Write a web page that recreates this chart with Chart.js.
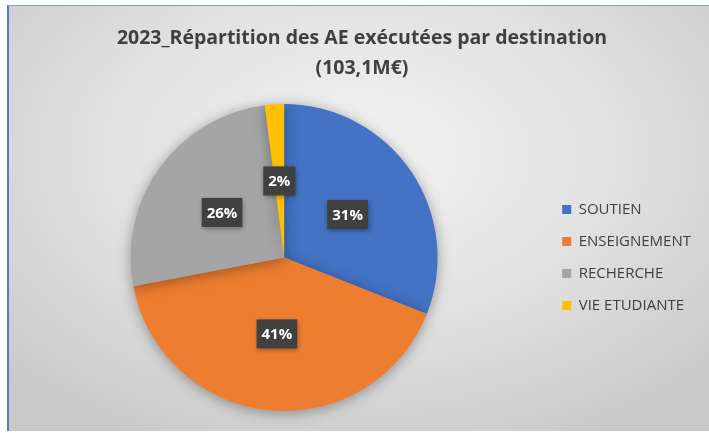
<!DOCTYPE html>
<html>
<head>
<meta charset="utf-8">
<script src="https://cdn.jsdelivr.net/npm/chart.js@4/dist/chart.umd.min.js"></script>
<style>
  body { margin: 0; background: #fff; }
  #box {
    position: absolute; left: 7px; top: 5px; width: 700px; height: 425px;
    border-left: 2px solid #4f7bd0; border-top: 1px solid #7f9fdc;
    background: radial-gradient(ellipse 70% 75% at 50% 35%, #f3f3f3 0%, #e2e2e2 50%, #c9c9c9 100%);
  }
  canvas { display: block; }
</style>
</head>
<body>
<div id="box"><canvas id="pie" width="700" height="425"></canvas></div>
<script>
// data
var destinations = ["SOUTIEN", "ENSEIGNEMENT", "RECHERCHE", "VIE ETUDIANTE"];
var shares = [31, 41, 26, 2]; // % of 103,1 M€
var sliceColors = ["#4472C4", "#ED7D31", "#A5A5A5", "#FFC000"];

var fontName = "'Open Sans', sans-serif";

// soft shadow under the pie
var shadowPlugin = {
    id: "pieShadow",
    beforeDatasetsDraw: function (chart) {
        var ctx = chart.ctx;
        ctx.save();
        ctx.shadowColor = "rgba(0,0,0,0.35)";
        ctx.shadowBlur = 14;
        ctx.shadowOffsetY = 2;
    },
    afterDatasetsDraw: function (chart) {
        chart.ctx.restore();
    }
};

// dark boxes with the percentages
var boxLabels = {
    id: "boxLabels",
    afterDatasetsDraw: function (chart) {
        var ctx = chart.ctx;
        var meta = chart.getDatasetMeta(0);
        ctx.save();
        ctx.font = "bold 15px " + fontName;
        ctx.textAlign = "center";
        ctx.textBaseline = "middle";
        meta.data.forEach(function (arc, i) {
            var p = arc.getCenterPoint();
            var txt = shares[i] + "%";
            var w = ctx.measureText(txt).width + 10;
            var h = 29;
            ctx.save();
            ctx.shadowColor = "rgba(0,0,0,0.4)";
            ctx.shadowBlur = 5;
            ctx.shadowOffsetX = 1;
            ctx.shadowOffsetY = 2;
            ctx.fillStyle = "#404040";
            ctx.fillRect(p.x - w / 2, p.y - h / 2, w, h);
            ctx.restore();
            ctx.fillStyle = "#ffffff";
            ctx.fillText(txt, p.x, p.y + 1);
        });
        ctx.restore();
    }
};

new Chart(document.getElementById("pie"), {
    type: "pie",
    data: {
        labels: destinations,
        datasets: [{
            data: shares,
            backgroundColor: sliceColors,
            borderWidth: 0
        }]
    },
    options: {
        responsive: false,
        animation: false,
        layout: { padding: { left: 14, right: 8, top: 0, bottom: 20 } },
        plugins: {
            title: {
                display: true,
                text: ["2023_Répartition des AE exécutées par destination", "(103,1M€)"],
                color: "#404040",
                font: { family: fontName, size: 19.5, weight: "bold", lineHeight: 1.54 },
                padding: { top: 17, bottom: 21 }
            },
            legend: {
                position: "right",
                fullSize: false,
                labels: {
                    color: "#404040",
                    font: { family: fontName, size: 15 },
                    boxWidth: 9,
                    boxHeight: 9,
                    padding: 17
                }
            },
            tooltip: { enabled: false }
        }
    },
    plugins: [shadowPlugin, boxLabels]
});
</script>
</body>
</html>
